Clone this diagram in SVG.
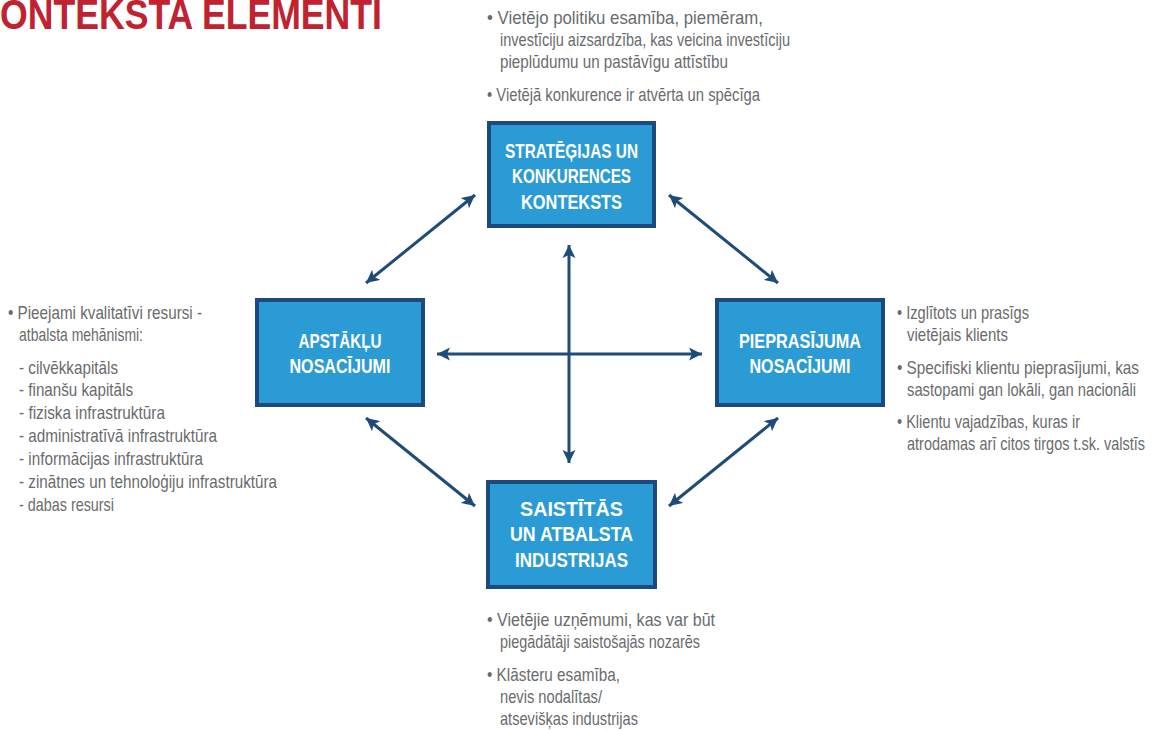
<svg xmlns="http://www.w3.org/2000/svg" width="1154" height="731" viewBox="0 0 1154 731">
<defs>
<style>
.box{fill:#2b9bd6;stroke:#1c4a7e;stroke-width:4}
.bt{font-family:"Liberation Sans",Arial,sans-serif;font-weight:bold;font-size:21px;fill:#ffffff;text-anchor:middle}
.t{font-family:"Liberation Sans",Arial,sans-serif;font-size:18.5px;fill:#6a6b6e}
.title{font-family:"Liberation Sans",Arial,sans-serif;font-weight:bold;font-size:42px;fill:#c0222f}
.c{stroke:#1f4b7b;stroke-width:3;fill:none;marker-start:url(#ah);marker-end:url(#ah)}
</style>
<marker id="ah" markerUnits="userSpaceOnUse" markerWidth="14" markerHeight="14" refX="13" refY="6.5" orient="auto-start-reverse" viewBox="0 0 14 13">
<path d="M0,0 L13,6.5 L0,13 L3,6.5 z" fill="#1f4b7b"/>
</marker>
</defs>
<rect width="1154" height="731" fill="#ffffff"/>
<text class="title" x="0" y="29" textLength="382" lengthAdjust="spacingAndGlyphs">ONTEKSTA ELEMENTI</text>

<g id="connectors">
<line class="c" x1="475" y1="195" x2="366" y2="283"/>
<line class="c" x1="669" y1="195" x2="778" y2="283"/>
<line class="c" x1="366" y1="418" x2="475" y2="506"/>
<line class="c" x1="778" y1="418" x2="669" y2="506"/>
<line class="c" x1="437" y1="354" x2="702" y2="354"/>
<line class="c" x1="569" y1="245" x2="569" y2="463"/>
</g>

<g id="strategy">
<rect class="box" x="489" y="123" width="165" height="103"/>
<text class="bt" x="571.5" y="158" textLength="133" lengthAdjust="spacingAndGlyphs">STRATĒĢIJAS UN</text>
<text class="bt" x="571.5" y="183" textLength="119" lengthAdjust="spacingAndGlyphs">KONKURENCES</text>
<text class="bt" x="571.5" y="209" textLength="101" lengthAdjust="spacingAndGlyphs">KONTEKSTS</text>
</g>

<g id="factor">
<rect class="box" x="257" y="300" width="166" height="105"/>
<text class="bt" x="340" y="348" textLength="83" lengthAdjust="spacingAndGlyphs">APSTĀKĻU</text>
<text class="bt" x="340" y="373" textLength="101" lengthAdjust="spacingAndGlyphs">NOSACĪJUMI</text>
</g>

<g id="demand">
<rect class="box" x="717" y="300" width="166" height="105"/>
<text class="bt" x="800" y="348" textLength="122" lengthAdjust="spacingAndGlyphs">PIEPRASĪJUMA</text>
<text class="bt" x="800" y="373" textLength="101" lengthAdjust="spacingAndGlyphs">NOSACĪJUMI</text>
</g>

<g id="related">
<rect class="box" x="488" y="482" width="167" height="105"/>
<text class="bt" x="571.5" y="516" textLength="103" lengthAdjust="spacingAndGlyphs">SAISTĪTĀS</text>
<text class="bt" x="571.5" y="541" textLength="123" lengthAdjust="spacingAndGlyphs">UN ATBALSTA</text>
<text class="bt" x="571.5" y="567" textLength="113" lengthAdjust="spacingAndGlyphs">INDUSTRIJAS</text>
</g>

<g id="strategy-notes">
<text class="t" x="487" y="24" textLength="276" lengthAdjust="spacingAndGlyphs">• Vietējo politiku esamība, piemēram,</text>
<text class="t" x="500" y="46" textLength="290" lengthAdjust="spacingAndGlyphs">investīciju aizsardzība, kas veicina investīciju</text>
<text class="t" x="500" y="68" textLength="228" lengthAdjust="spacingAndGlyphs">pieplūdumu un pastāvīgu attīstību</text>
<text class="t" x="487" y="101" textLength="273" lengthAdjust="spacingAndGlyphs">• Vietējā konkurence ir atvērta un spēcīga</text>
</g>

<g id="factor-notes">
<text class="t" x="8" y="319" textLength="194" lengthAdjust="spacingAndGlyphs">• Pieejami kvalitatīvi resursi -</text>
<text class="t" x="19" y="341" textLength="124" lengthAdjust="spacingAndGlyphs">atbalsta mehānismi:</text>
<text class="t" x="19" y="374" textLength="99" lengthAdjust="spacingAndGlyphs">- cilvēkkapitāls</text>
<text class="t" x="19" y="396" textLength="114" lengthAdjust="spacingAndGlyphs">- finanšu kapitāls</text>
<text class="t" x="19" y="419" textLength="146" lengthAdjust="spacingAndGlyphs">- fiziska infrastruktūra</text>
<text class="t" x="19" y="442" textLength="198" lengthAdjust="spacingAndGlyphs">- administratīvā infrastruktūra</text>
<text class="t" x="19" y="465" textLength="184" lengthAdjust="spacingAndGlyphs">- informācijas infrastruktūra</text>
<text class="t" x="19" y="488" textLength="258" lengthAdjust="spacingAndGlyphs">- zinātnes un tehnoloģiju infrastruktūra</text>
<text class="t" x="19" y="511" textLength="95" lengthAdjust="spacingAndGlyphs">- dabas resursi</text>
</g>

<g id="demand-notes">
<text class="t" x="897" y="319" textLength="132" lengthAdjust="spacingAndGlyphs">• Izglītots un prasīgs</text>
<text class="t" x="907" y="341" textLength="101" lengthAdjust="spacingAndGlyphs">vietējais klients</text>
<text class="t" x="897" y="374" textLength="242" lengthAdjust="spacingAndGlyphs">• Specifiski klientu pieprasījumi, kas</text>
<text class="t" x="907" y="396" textLength="229" lengthAdjust="spacingAndGlyphs">sastopami gan lokāli, gan nacionāli</text>
<text class="t" x="897" y="428" textLength="183" lengthAdjust="spacingAndGlyphs">• Klientu vajadzības, kuras ir</text>
<text class="t" x="907" y="450" textLength="238" lengthAdjust="spacingAndGlyphs">atrodamas arī citos tirgos t.sk. valstīs</text>
</g>

<g id="related-notes">
<text class="t" x="487" y="626" textLength="228" lengthAdjust="spacingAndGlyphs">• Vietējie uzņēmumi, kas var būt</text>
<text class="t" x="500" y="648" textLength="200" lengthAdjust="spacingAndGlyphs">piegādātāji saistošajās nozarēs</text>
<text class="t" x="487" y="681" textLength="133" lengthAdjust="spacingAndGlyphs">• Klāsteru esamība,</text>
<text class="t" x="500" y="703" textLength="102" lengthAdjust="spacingAndGlyphs">nevis nodalītas/</text>
<text class="t" x="500" y="725" textLength="138" lengthAdjust="spacingAndGlyphs">atsevišķas industrijas</text>
</g>
</svg>
